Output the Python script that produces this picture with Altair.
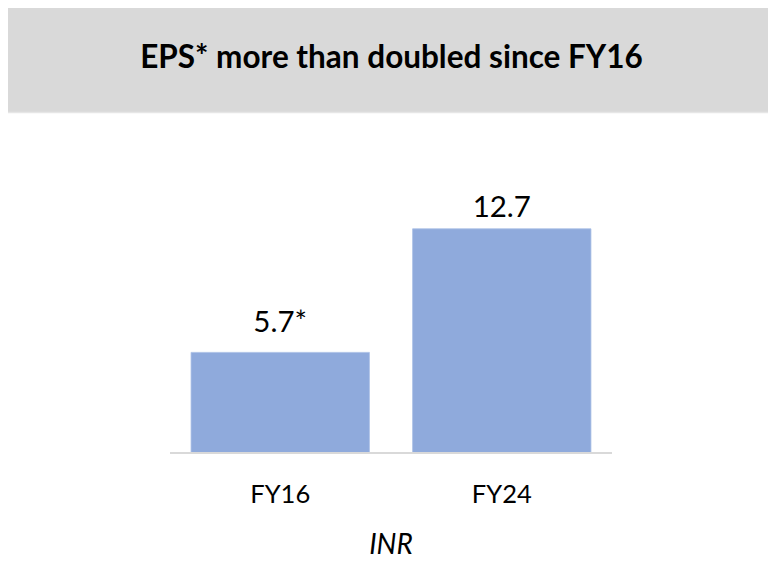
import altair as alt
import pandas as pd

categories = ["FY16", "FY24"]
values = [5.7, 12.7]
value_labels = ["5.7*", "12.7"]
title_text = "EPS* more than doubled since FY16"
unit_text = "INR"

df = pd.DataFrame({"cat": categories, "val": values, "lab": value_labels})

FONT = "Lato"
PL, PR, PT, PB = 162, 156, 0, 124
PW, PH = 442, 445
TOTAL_W = PL + PW + PR

xenc = alt.X("cat:N", scale=alt.Scale(domain=categories, paddingInner=0.195, paddingOuter=0.095), axis=None)
yenc = alt.Y("val:Q", scale=alt.Scale(domain=[0, 25.21], nice=False, zero=True), axis=None)

one = pd.DataFrame({"a": [0]})

header = alt.Chart(one).mark_rect(color="#d9d9d9").encode(
    x=alt.value(-PL), x2=alt.value(TOTAL_W - PL), y=alt.value(0), y2=alt.value(104)
)
header_line = alt.Chart(one).mark_rule(color="#e6e6e6", strokeWidth=1.5).encode(
    x=alt.value(-PL), x2=alt.value(TOTAL_W - PL), y=alt.value(104.5)
)
title = alt.Chart(pd.DataFrame({"t": [title_text]})).mark_text(
    font=FONT, fontSize=31.5, fontWeight="bold", color="#000000", baseline="alphabetic", align="center"
).encode(x=alt.value(383.5 - PL), y=alt.value(59.5), text="t:N")

base = alt.Chart(df)

bars = base.mark_bar(color="#8faadc", stroke="#a9bfe6", strokeWidth=0.8).encode(x=xenc, y=yenc)

baseline = alt.Chart(one).mark_rule(color="#d9d9d9", strokeWidth=2).encode(
    x=alt.value(0), x2=alt.value(PW), y=alt.value(PH)
)

lab16 = base.transform_filter(alt.datum.cat == "FY16").mark_text(
    font=FONT, fontSize=29.5, color="#000000", baseline="alphabetic", dy=-20.7
).encode(x=xenc, y=yenc, text="lab:N")
lab24 = base.transform_filter(alt.datum.cat == "FY24").mark_text(
    font=FONT, fontSize=29.5, color="#000000", baseline="alphabetic", dy=-12
).encode(x=xenc, y=yenc, text="lab:N")

cat_labels = base.mark_text(
    font=FONT, fontSize=25.5, color="#000000", baseline="alphabetic"
).encode(x=xenc, y=alt.value(494.7), text="cat:N")

unit = alt.Chart(pd.DataFrame({"u": [unit_text]})).mark_text(
    font=FONT, fontSize=28, fontStyle="italic", color="#000000", baseline="alphabetic", align="center"
).encode(x=alt.value(383 - PL), y=alt.value(546.3), text="u:N")

chart = alt.layer(bars, baseline, header, header_line, title, lab16, lab24, cat_labels, unit).properties(
    width=PW, height=PH, autosize=alt.AutoSizeParams(type="none"),
    padding={"left": PL, "right": PR, "top": PT, "bottom": PB}, background="#ffffff"
).configure_view(stroke=None)

chart.save("out.html", embed_options={"renderer": "svg", "actions": False})
